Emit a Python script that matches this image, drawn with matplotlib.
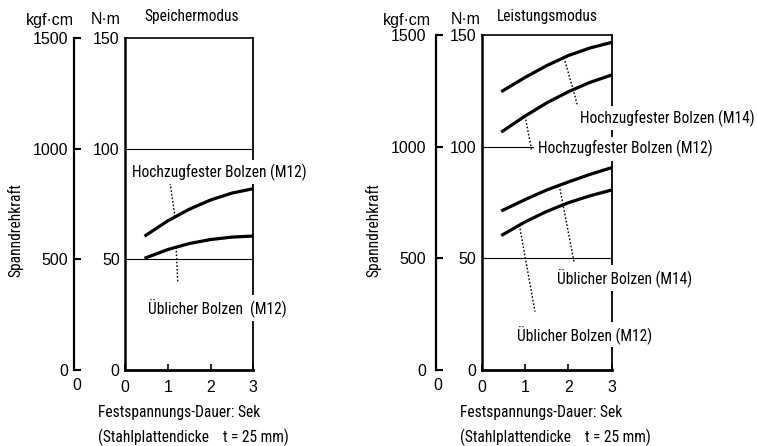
import matplotlib
matplotlib.use("Agg")
import matplotlib.pyplot as plt
import numpy as np
from matplotlib import font_manager as fm

# ---- data -------------------------------------------------------------
time_s = [0.45, 1.0, 1.5, 2.0, 2.5, 3.0]

# Speichermodus (N·m)
speicher_hochfest_m12 = [60.5, 67.5, 72.7, 76.9, 80.0, 82.0]
speicher_ueblich_m12 = [50.5, 54.5, 57.2, 59.0, 60.1, 60.6]

# Leistungsmodus (N·m)
leistung_hochfest_m14 = [124.6, 131.0, 136.3, 140.8, 144.2, 146.7]
leistung_hochfest_m12 = [106.5, 113.7, 119.6, 124.6, 128.8, 132.1]
leistung_ueblich_m14 = [71.2, 76.3, 80.6, 84.2, 87.6, 90.6]
leistung_ueblich_m12 = [60.2, 66.3, 71.0, 74.9, 78.0, 80.6]

nm_ticks = [0, 50, 100, 150]
kgf_ticks = [0, 500, 1000, 1500]
time_ticks = [0, 1, 2, 3]

# ---- fonts --------------------------------------------------------------
available = {f.name for f in fm.fontManager.ttflist}
NARROW = next((n for n in ["Liberation Sans Narrow", "Roboto Condensed",
                           "DejaVu Sans Condensed", "Liberation Sans"]
               if n in available), "DejaVu Sans")
REGULAR = "Liberation Sans" if "Liberation Sans" in available else "DejaVu Sans"
plt.rcParams["font.family"] = [REGULAR, "DejaVu Sans"]
FS = 11.5
FSN = 11.2

W, H = 757, 446
fig = plt.figure(figsize=(W / 100, H / 100), dpi=100)


def fx(x):
    return x / W


def fy(y):
    return 1 - y / H


def panel(left, right, top, bottom, kgf_x, kgf_pad, title, title_x,
          curves, leaders, labels, unit_x, ylabel_x, xlabel_x, zero_x):
    ax = fig.add_axes([fx(left), fy(bottom), (right - left) / W, (bottom - top) / H])
    ax.set_xlim(0, 3)
    ax.set_ylim(0, 150)
    ax.set_yticks(nm_ticks)
    ax.set_xticks(time_ticks)
    ax.tick_params(axis="y", length=0, pad=4, labelsize=FS)
    ax.tick_params(axis="x", direction="in", length=4, width=1.2, pad=7, labelsize=FS)
    ax.spines["left"].set_linewidth(1.8)
    ax.spines["bottom"].set_linewidth(2.0)
    ax.spines["top"].set_linewidth(1.2)
    ax.spines["right"].set_linewidth(1.3)
    for yv in (50, 100):
        ax.axhline(yv, color="black", lw=0.8, zorder=1)

    for vals in curves:
        ax.plot(time_s, vals, color="black", lw=2.3, solid_capstyle="butt",
                clip_on=False, zorder=3)
    for vals, xa, xb, yb in leaders:
        ya = np.interp(xa, time_s, vals)
        ax.plot([xa, xb], [ya, yb], color="black", lw=1.0,
                ls=(0, (1.2, 1.4)), zorder=2)
    for text, x, y in labels:
        ax.text(x, y, text, ha="center", va="baseline", fontsize=FSN,
                family=[NARROW, "DejaVu Sans"], clip_on=False, zorder=6,
                bbox=dict(facecolor="white", edgecolor="none",
                          boxstyle="square,pad=0.22"))

    # secondary kgf·cm scale
    ak = fig.add_axes([fx(kgf_x), fy(bottom), 10 / W, (bottom - top) / H])
    ak.set_ylim(0, 1500)
    ak.set_yticks(kgf_ticks)
    ak.set_xticks([])
    for s in ("top", "right", "bottom"):
        ak.spines[s].set_visible(False)
    ak.spines["left"].set_linewidth(1.6)
    ak.patch.set_visible(False)
    ak.tick_params(axis="y", direction="in", length=5, width=1.5,
                   pad=kgf_pad, labelsize=FS)
    fig.text(fx(zero_x), fy(386), "0", ha="center", va="center", fontsize=FS)

    # headings and axis captions
    fig.text(fx(unit_x[0]), fy(20), "kgf·cm", ha="center", va="center", fontsize=FS)
    fig.text(fx(unit_x[1]), fy(20), "N·m", ha="center", va="center", fontsize=FS)
    fig.text(fx(title_x), fy(17), title, ha="center", va="center", fontsize=FSN,
             family=[NARROW, "DejaVu Sans"])
    fig.text(fx(ylabel_x), fy(230), "Spanndrehkraft", rotation=90, ha="center",
             va="center", fontsize=FSN, family=[NARROW, "DejaVu Sans"])
    fig.text(fx(xlabel_x), fy(413), "Festspannungs-Dauer: Sek", ha="left",
             va="center", fontsize=FSN, family=[NARROW, "DejaVu Sans"])
    fig.text(fx(xlabel_x), fy(437), "(Stahlplattendicke    t = 25 mm)", ha="left",
             va="center", fontsize=FSN, family=[NARROW, "DejaVu Sans"])
    return ax


panel(125.3, 253.3, 38.3, 370, 74, 4, "Speichermodus", 192,
      [speicher_hochfest_m12, speicher_ueblich_m12],
      [(speicher_hochfest_m12, 1.165, 1.05, 84.6),
       (speicher_ueblich_m12, 1.19, 1.23, 39.5)],
      [("Hochzugfester Bolzen (M12)", 2.2, 87.3),
       ("Üblicher Bolzen  (M12)", 2.15, 25.6)],
      (50, 106), 15, 98, 77)

panel(481.7, 611.7, 35, 370, 435.7, 7, "Leistungsmodus", 547.5,
      [leistung_hochfest_m14, leistung_hochfest_m12,
       leistung_ueblich_m14, leistung_ueblich_m12],
      [(leistung_hochfest_m14, 1.9, 2.23, 117.2),
       (leistung_hochfest_m12, 1.0, 1.15, 98.8),
       (leistung_ueblich_m14, 1.79, 2.13, 48.5),
       (leistung_ueblich_m12, 0.87, 1.23, 26.1)],
      [("Hochzugfester Bolzen (M14)", 4.29, 110.5),
       ("Hochzugfester Bolzen (M12)", 3.31, 97.0),
       ("Üblicher Bolzen (M14)", 3.30, 38.8),
       ("Üblicher Bolzen (M12)", 2.37, 13.4)],
      (407, 466), 373, 460, 438)

fig.savefig("out.png", dpi=100)
